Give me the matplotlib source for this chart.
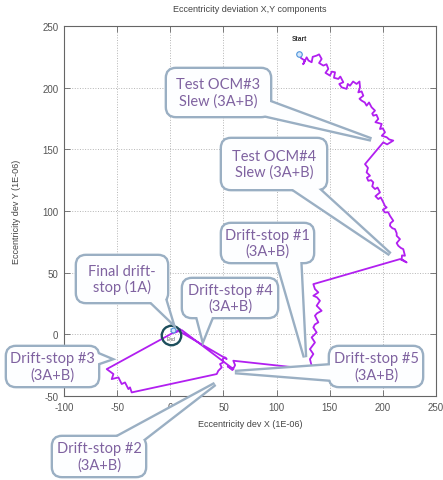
import matplotlib
matplotlib.use("Agg")
import matplotlib.pyplot as plt
from matplotlib.patches import FancyBboxPatch, Polygon

plt.rcParams['axes.unicode_minus'] = False

# eccentricity trajectory (units of 1E-06)
# leg 1: start -> Test OCM#3
leg1_x = [121.4, 123, 126.7, 125, 128.3, 130, 133, 134, 137.7, 140, 142.4, 140, 144, 147,
          148.7, 146, 150.2, 152, 155, 154, 158.1, 160, 162.8, 159, 161.2, 165.9, 167, 169.1,
          172, 175.3, 178, 178.5, 176.9, 180, 181.6, 178, 180, 183, 184.7, 187, 189.4, 192.6,
          190, 191, 194, 195.7, 193, 198.9, 197.3, 200, 202, 199, 203.6, 206, 209.8, 204, 200.4]
leg1_y = [227.3, 224, 221.9, 219, 224.6, 222, 220.6, 225, 226, 227, 223.3, 220, 217.9, 219,
          215.2, 212, 209.8, 213, 212.5, 208, 207.1, 209, 204.4, 203, 200.3, 199, 203, 201.6,
          205, 203, 205, 200.3, 196.2, 197, 193.5, 191, 189.5, 188, 185.4, 188, 184.1, 181.4,
          179, 177.3, 178, 174.6, 172, 170.6, 166.5, 167, 163.8, 161, 159.8, 158, 157.1, 154, 155.7]
# leg 2: after OCM#3 -> Test OCM#4
leg2_x = [183.2, 186, 184.7, 187.9, 185, 186.3, 189, 191, 190, 192.6, 195, 197.3, 193, 195.7,
          198, 200.4, 202, 203.6, 200, 202, 205, 206.7, 209.8, 207, 206.7, 209, 211.4, 213, 213,
          216.1, 213, 214.5, 217, 219.2, 220.8, 218, 217.7, 222.4, 216.1]
leg2_y = [138, 135, 131.3, 128.6, 127, 124.5, 125, 123.2, 120, 117.8, 119, 115.1, 112, 109.7,
          111, 107, 104, 102.9, 101, 98.8, 99, 96.1, 92.1, 90, 88, 86, 85.3, 82, 79.9,
          77.2, 74, 71.8, 70, 69.1, 63.7, 64, 61, 58.3, 61]
# leg 3: after OCM#4 -> Drift-stop #1
leg3_x = [134.6, 136.1, 139.3, 134.6, 138, 140.8, 137.7, 142.4, 138, 136.1, 139.3, 136, 134.6,
          137.7, 133, 136.1, 134, 131.4, 134.6, 131.4, 133, 132]
leg3_y = [40.7, 36.7, 34, 31.3, 30, 27.2, 23.2, 19.1, 17, 15.1, 9.7, 8, 5.6,
          1.5, -2.5, -6.6, -9, -12, -16, -20.1, -25.5, -28.2]
# leg 4: drift-stops #1..#5 down to the final one
leg4_x = [59.3, 61, 58.5, 54, 59.4, 10.7, 6, 2, 0, -59.8, -53.5, -55.1, -48.8, -45.7, -42.6,
          -39.4, -37.9, -36.3, 43.7, 45.2, 48.4, 46.8, 49.9, 49.3, 51.5, 53.1, 7.6, 9.2, 4.5, 2.3]
leg4_y = [-21.4, -25, -29, -26, -28.2, 3.5, 2, 1, 0, -28.2, -32.2, -36.3, -34.9, -40.3, -39,
          -44.4, -43, -47.1, -32.2, -29.5, -26.8, -24.1, -22.7, -20, -18.7, -20, 2.9, 4.3, 1.6, 3.7]

start_xy = (121.4, 227.3)
end_xy = (2.3, 3.7)
final_xy = (0.7, -0.6)

xticks = [-100, -50, 0, 50, 100, 150, 200, 250]
yticks = [-50, 0, 50, 100, 150, 200, 250]

# callouts: label, box (px from top-left: x0, y0, x1, y1), tail base (px), tail tip (data)
callouts = [
    ("Test OCM#3\nSlew (3A+B)", (167, 70, 270, 117), [(262, 100), (250, 113)], (189, 158)),
    ("Test OCM#4\nSlew (3A+B)", (222, 140, 326, 190), [(284, 184), (312, 184)], (206.7, 65)),
    ("Drift-stop #1\n(3A+B)", (222, 225, 313, 263), [(276, 258), (300, 258)], (126.7, -18.5)),
    ("Final drift-\nstop (1A)", (77, 257, 167, 303), [(146, 298), (162, 290)], (1.6, 10)),
    ("Drift-stop #4\n(3A+B)", (183, 280, 277, 318), [(196, 313), (214, 313)], (30.8, -3.9)),
    ("Drift-stop #3\n(3A+B)", (7, 348, 98, 387), [(93, 353), (93, 366)], (-56.7, -20.1)),
    ("Drift-stop #5\n(3A+B)", (330, 348, 422, 387), [(335, 366), (335, 381)], (60.9, -30.6)),
    ("Drift-stop #2\n(3A+B)", (53, 438, 145, 477), [(108, 443), (140, 443)], (42, -40.3)),
]

W, H, DPI = 443, 481, 100


def px(x, y):
    # pixel from top-left -> inches from bottom-left
    return (x / DPI, (H - y) / DPI)


def draw_callout(fig, ax, text, box, base, tip):
    x0, y0, x1, y1 = box
    tip_disp = ax.transData.transform(tip)
    tip_in = (tip_disp[0] / DPI, tip_disp[1] / DPI)
    tail = [px(*base[0]), px(*base[1]), tip_in]
    bx, by = px(x0, y1)
    bw, bh = (x1 - x0) / DPI, (y1 - y0) / DPI
    edge = '#9aafc3'
    # outline layer then white fill layer so box + tail merge into one shape
    for lw, ec, z in [(3.4, edge, 10), (0, 'none', 11)]:
        rect = FancyBboxPatch((bx, by), bw, bh, boxstyle="round,pad=0,rounding_size=0.09",
                              transform=fig.dpi_scale_trans, facecolor='#fdfeff',
                              edgecolor=ec, linewidth=lw, zorder=z)
        tri = Polygon(tail, closed=True, transform=fig.dpi_scale_trans, facecolor='#fdfeff',
                      edgecolor=ec, linewidth=lw, joinstyle='miter', zorder=z)
        fig.add_artist(tri)
        fig.add_artist(rect)
    cx, cy = px((x0 + x1) / 2, (y0 + y1) / 2)
    fig.text(cx / (W / DPI), cy / (H / DPI), text, ha='center', va='center',
             fontsize=10.5, family='Lato', color='#7f62a0', linespacing=1.15, zorder=12)


def main():
    fig = plt.figure(figsize=(W / DPI, H / DPI), dpi=DPI)
    ax = fig.add_axes([64 / W, (H - 397) / H, 372 / W, 370 / H])

    traj_x = leg1_x + leg2_x + leg3_x + leg4_x
    traj_y = leg1_y + leg2_y + leg3_y + leg4_y
    ax.plot(traj_x, traj_y, color='#b11ff0', linewidth=1.3, zorder=3)

    ax.plot(*start_xy, marker='o', markersize=4, markerfacecolor='#d6e8fa',
            markeredgecolor='#4f95dc', markeredgewidth=0.8, zorder=4)
    ax.text(start_xy[0], start_xy[1] + 10, "Start", fontsize=4.8, fontweight='bold',
            color='#333333', ha='center', va='bottom', family='Liberation Sans')
    ax.plot(*end_xy, marker='o', markersize=3.5, markerfacecolor='#d6e8fa',
            markeredgecolor='#4f95dc', markeredgewidth=0.8, zorder=4)
    ax.text(final_xy[0], final_xy[1] - 3, "End", fontsize=3.5, color='#555555',
            ha='center', va='center', family='Liberation Sans', zorder=4)
    ax.plot(*final_xy, marker='o', markersize=14, markerfacecolor='none',
            markeredgecolor='#1d4e5c', markeredgewidth=1.7, zorder=5)

    ax.set_xlim(-100, 250)
    ax.set_ylim(-50, 250)
    ax.set_xticks(xticks)
    ax.set_yticks(yticks)
    ax.grid(True, linestyle=':', color='#b5b5b5', linewidth=0.7)
    ax.tick_params(direction='in', top=True, right=True, length=4, width=0.6,
                   color='#666666', labelsize=7, labelcolor='#555555', pad=4)
    for lab in ax.get_xticklabels() + ax.get_yticklabels():
        lab.set_family('Liberation Sans')
    for sp in ax.spines.values():
        sp.set_color('#666666')
        sp.set_linewidth(0.8)

    fig.text(250 / W, 1 - 9 / H, "Eccentricity deviation X,Y components", ha='center',
             va='center', fontsize=6.5, color='#444444', family='Liberation Sans')
    fig.text(250 / W, 1 - 425 / H, "Eccentricity dev X (1E-06)", ha='center', va='center',
             fontsize=6.5, color='#444444', family='Liberation Sans')
    fig.text(17 / W, 1 - 212 / H, "Eccentricity dev Y (1E-06)", ha='center', va='center',
             rotation=90, fontsize=6.5, color='#444444', family='Liberation Sans')

    for text, box, base, tip in callouts:
        draw_callout(fig, ax, text, box, base, tip)

    fig.savefig("out.png", dpi=DPI)


if __name__ == "__main__":
    main()
